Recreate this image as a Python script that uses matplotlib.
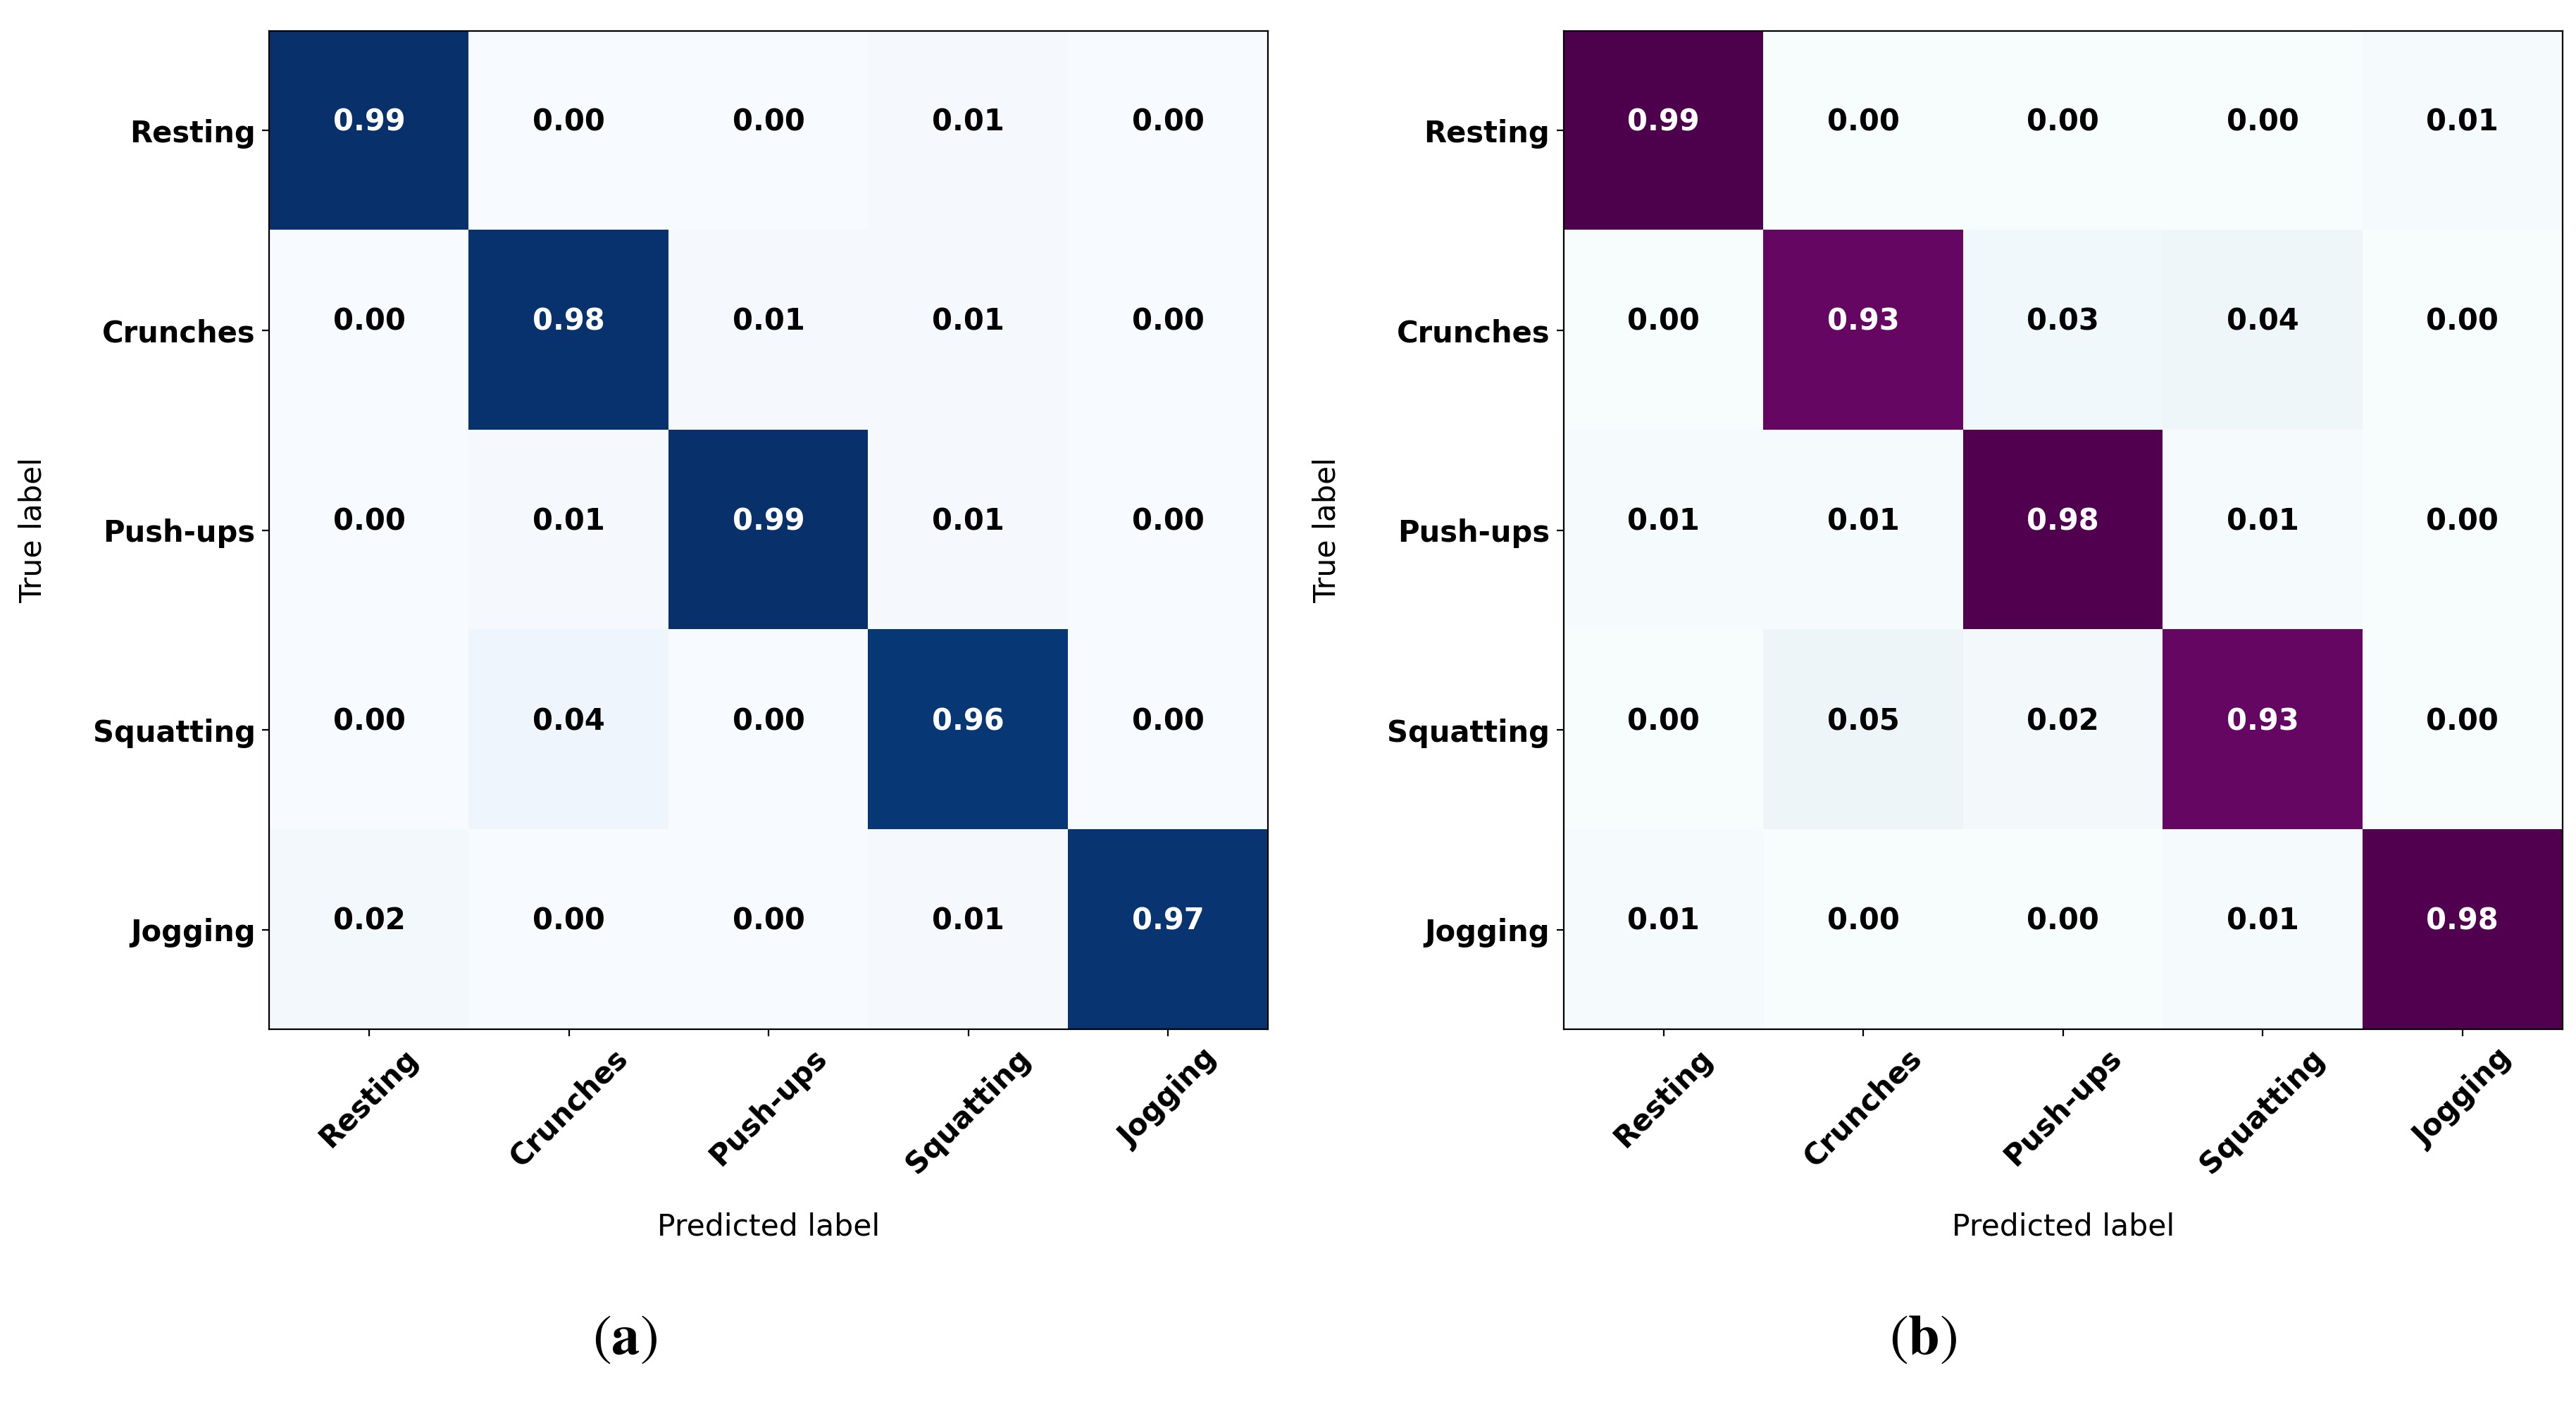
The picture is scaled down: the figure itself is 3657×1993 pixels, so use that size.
import numpy as np
import matplotlib
matplotlib.use("Agg")
import matplotlib.pyplot as plt

classes = ["Resting", "Crunches", "Push-ups", "Squatting", "Jogging"]

cm_a = np.array([
    [0.99, 0.00, 0.00, 0.01, 0.00],
    [0.00, 0.98, 0.01, 0.01, 0.00],
    [0.00, 0.01, 0.99, 0.01, 0.00],
    [0.00, 0.04, 0.00, 0.96, 0.00],
    [0.02, 0.00, 0.00, 0.01, 0.97],
])

cm_b = np.array([
    [0.99, 0.00, 0.00, 0.00, 0.01],
    [0.00, 0.93, 0.03, 0.04, 0.00],
    [0.01, 0.01, 0.98, 0.01, 0.00],
    [0.00, 0.05, 0.02, 0.93, 0.00],
    [0.01, 0.00, 0.00, 0.01, 0.98],
])

captions = ["a", "b"]

plt.rcParams['font.size'] = 15

fig = plt.figure(figsize=(3657 / 200, 1993 / 200), dpi=200)


def plot_cm(ax, cm, cmap):
    ax.imshow(cm, interpolation='nearest', cmap=cmap)
    ticks = np.arange(len(classes))
    ax.set_xticks(ticks)
    ax.set_yticks(ticks)
    ax.set_xticklabels(classes, rotation=45, fontweight='bold')
    ax.set_yticklabels(classes, fontweight='bold')
    thresh = cm.max() / 2.
    for i in range(cm.shape[0]):
        for j in range(cm.shape[1]):
            ax.text(j, i, format(cm[i, j], '.2f'),
                    horizontalalignment="center", fontweight='bold',
                    color="white" if cm[i, j] > thresh else "black")
    ax.set_ylabel('True label', fontsize=15.3)
    ax.set_xlabel('Predicted label', fontsize=15.3)
    ax.yaxis.set_label_coords(-0.222, 0.5)
    ax.xaxis.set_label_coords(0.5, -0.183)


ax1 = fig.add_axes([0.1045, 0.2664, 0.3877, 0.712])
plot_cm(ax1, cm_a, plt.cm.Blues)

ax2 = fig.add_axes([0.607, 0.2664, 0.3877, 0.712])
plot_cm(ax2, cm_b, plt.cm.BuPu)

plt.rcParams['mathtext.fontset'] = 'stix'
fig.text(0.2425, 0.047, r'$(\mathbf{%s})$' % captions[0], fontsize=29,
         ha='center', va='center')
fig.text(0.7465, 0.047, r'$(\mathbf{%s})$' % captions[1], fontsize=29,
         ha='center', va='center')

fig.savefig('out.png', dpi=200)
